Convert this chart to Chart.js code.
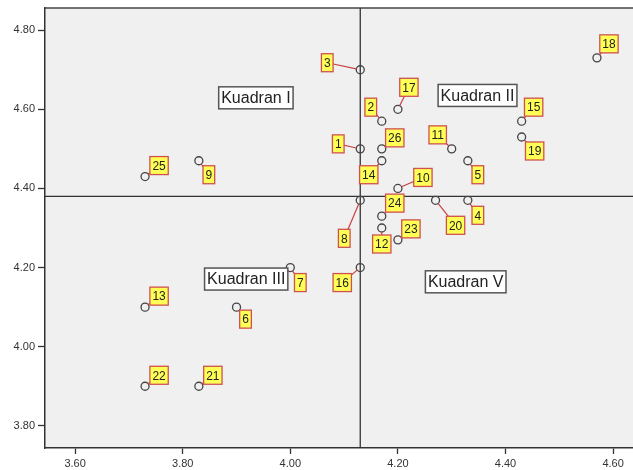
<!DOCTYPE html>
<html>
<head>
<meta charset="utf-8">
<script src="https://cdn.jsdelivr.net/npm/chart.js@4"></script>
<style>
  body { margin: 0; background: #fff; }
</style>
</head>
<body>
<canvas id="quadCanvas" width="633" height="470"></canvas>
<script>
// case numbers and their mean scores
const caseIds = [1, 2, 3, 4, 5, 6, 7, 8, 9, 10, 11, 12, 13, 14, 15, 16, 17, 18, 19, 20, 21, 22, 23, 24, 25, 26];
const xValues = [4.13, 4.17, 4.13, 4.33, 4.33, 3.90, 4.00, 4.13, 3.83, 4.20, 4.30, 4.17, 3.73,
                 4.17, 4.43, 4.13, 4.20, 4.57, 4.43, 4.27, 3.83, 3.73, 4.20, 4.17, 3.73, 4.17];
const yValues = [4.50, 4.57, 4.70, 4.37, 4.47, 4.10, 4.20, 4.37, 4.47, 4.40, 4.50, 4.30, 4.10,
                 4.47, 4.57, 4.20, 4.60, 4.73, 4.53, 4.37, 3.90, 3.90, 4.27, 4.33, 4.43, 4.50];

const xTicks = [3.60, 3.80, 4.00, 4.20, 4.40, 4.60];
const yTicks = [3.80, 4.00, 4.20, 4.40, 4.60, 4.80];

// reference lines (means)
const xMean = 4.13;
const yMean = 4.38;

const quadrantNames = ["Kuadran I", "Kuadran II", "Kuadran III", "Kuadran V"];
const quadrantX = [3.936, 4.348, 3.918, 4.326];
const quadrantY = [4.629, 4.635, 4.171, 4.164];

// pixel offset of each case label from its point
const labelDx = [-22, -11, -33, 10, 10, 9, 10, -16, 10, 25, -14, 0, 14, -13, 12, -18, 11, 12, 13, 20, 14, 14, 13, 13, 14, 13];
const labelDy = [-5, -14, -7, 15, 14, 12, 15, 38, 14, -11, -14, 16, -11, 14, -14, 15, -22, -14, 14, 25, -11, -11, -11, -13, -11, -11];

const points = caseIds.map((id, i) => ({ x: xValues[i], y: yValues[i] }));

const decorPlugin = {
  id: 'decor',
  beforeDraw(chart) {
    const { ctx, chartArea: a } = chart;
    ctx.save();
    ctx.fillStyle = '#f0f0f0';
    ctx.fillRect(a.left, a.top, a.right - a.left, a.bottom - a.top);
    ctx.strokeStyle = '#444';
    ctx.lineWidth = 1.5;
    ctx.beginPath();
    ctx.moveTo(a.left, a.top);
    ctx.lineTo(a.right, a.top);
    ctx.stroke();
    ctx.restore();
  },
  beforeDatasetsDraw(chart) {
    const { ctx, chartArea: a, scales } = chart;
    const px = scales.x.getPixelForValue(xMean);
    const py = scales.y.getPixelForValue(yMean);
    ctx.save();
    ctx.strokeStyle = '#333';
    ctx.lineWidth = 1.3;
    ctx.beginPath();
    ctx.moveTo(px, a.top);
    ctx.lineTo(px, a.bottom);
    ctx.moveTo(a.left, py);
    ctx.lineTo(a.right, py);
    ctx.stroke();
    ctx.restore();
  },
  afterDatasetsDraw(chart) {
    const { ctx, scales } = chart;
    ctx.save();
    // quadrant captions
    ctx.font = '16px "Liberation Sans", Arial, sans-serif';
    ctx.textAlign = 'center';
    ctx.textBaseline = 'middle';
    quadrantNames.forEach((name, i) => {
      const cx = scales.x.getPixelForValue(quadrantX[i]);
      const cy = scales.y.getPixelForValue(quadrantY[i]);
      const w = ctx.measureText(name).width + 5;
      const h = 22;
      ctx.fillStyle = '#fff';
      ctx.fillRect(cx - w / 2, cy - h / 2, w, h);
      ctx.strokeStyle = '#555';
      ctx.lineWidth = 1.5;
      ctx.strokeRect(cx - w / 2, cy - h / 2, w, h);
      ctx.fillStyle = '#222';
      ctx.fillText(name, cx, cy + 1);
    });

    // case labels with leader lines (line stops at the circle edge)
    ctx.font = '12px "Liberation Sans", Arial, sans-serif';
    const meta = chart.getDatasetMeta(0);
    meta.data.forEach((el, i) => {
      const lx = el.x + labelDx[i];
      const ly = el.y + labelDy[i];
      const len = Math.hypot(labelDx[i], labelDy[i]);
      const sx = el.x + labelDx[i] / len * 4;
      const sy = el.y + labelDy[i] / len * 4;
      ctx.strokeStyle = '#c84040';
      ctx.lineWidth = 1.2;
      ctx.beginPath();
      ctx.moveTo(sx, sy);
      ctx.lineTo(lx, ly);
      ctx.stroke();
    });
    meta.data.forEach((el, i) => {
      const txt = String(caseIds[i]);
      const lx = el.x + labelDx[i];
      const ly = el.y + labelDy[i];
      const w = ctx.measureText(txt).width + 5;
      const h = 18;
      ctx.fillStyle = '#ffff55';
      ctx.fillRect(lx - w / 2, ly - h / 2, w, h);
      ctx.strokeStyle = '#d05050';
      ctx.lineWidth = 1.3;
      ctx.strokeRect(lx - w / 2, ly - h / 2, w, h);
      ctx.fillStyle = '#222';
      ctx.fillText(txt, lx, ly + 1);
    });
    ctx.restore();
  }
};

const tickFont = { family: '"Liberation Sans", Arial, sans-serif', size: 11 };

const config = {
  type: 'scatter',
  data: {
    datasets: [{
      data: points,
      pointStyle: 'circle',
      pointRadius: 4,
      pointHoverRadius: 4,
      borderColor: '#444',
      backgroundColor: 'rgba(0,0,0,0)',
      pointBorderWidth: 1.3
    }]
  },
  options: {
    responsive: false,
    animation: false,
    layout: { autoPadding: false, padding: { top: 8, right: 0, left: 0, bottom: 0 } },
    plugins: {
      legend: { display: false },
      tooltip: { enabled: false }
    },
    scales: {
      x: {
        type: 'linear',
        min: 3.544,
        max: 4.637,
        afterBuildTicks: axis => { axis.ticks = xTicks.map(v => ({ value: v })); },
        afterFit: axis => {
          axis.height = 22;
          axis.paddingLeft = 0;
          axis.paddingRight = 0;
        },
        ticks: {
          callback: v => v.toFixed(2),
          font: tickFont,
          color: '#333',
          padding: 3,
          maxRotation: 0
        },
        grid: { drawOnChartArea: false, drawTicks: true, tickLength: 6, color: '#333', tickWidth: 1.3 },
        border: { display: true, color: '#333', width: 1.5 }
      },
      y: {
        type: 'linear',
        min: 3.744,
        max: 4.856,
        afterBuildTicks: axis => { axis.ticks = yTicks.map(v => ({ value: v })); },
        afterFit: axis => {
          axis.width = 45;
          axis.paddingTop = 0;
          axis.paddingBottom = 0;
        },
        ticks: {
          callback: v => v.toFixed(2),
          font: tickFont,
          color: '#333',
          padding: 3
        },
        grid: { drawOnChartArea: false, drawTicks: true, tickLength: 7, color: '#333', tickWidth: 1.3 },
        border: { display: true, color: '#333', width: 1.5 }
      }
    }
  },
  plugins: [decorPlugin]
};

const canvas = document.getElementById('quadCanvas');
new Chart(canvas.getContext('2d'), config);
</script>
</body>
</html>
